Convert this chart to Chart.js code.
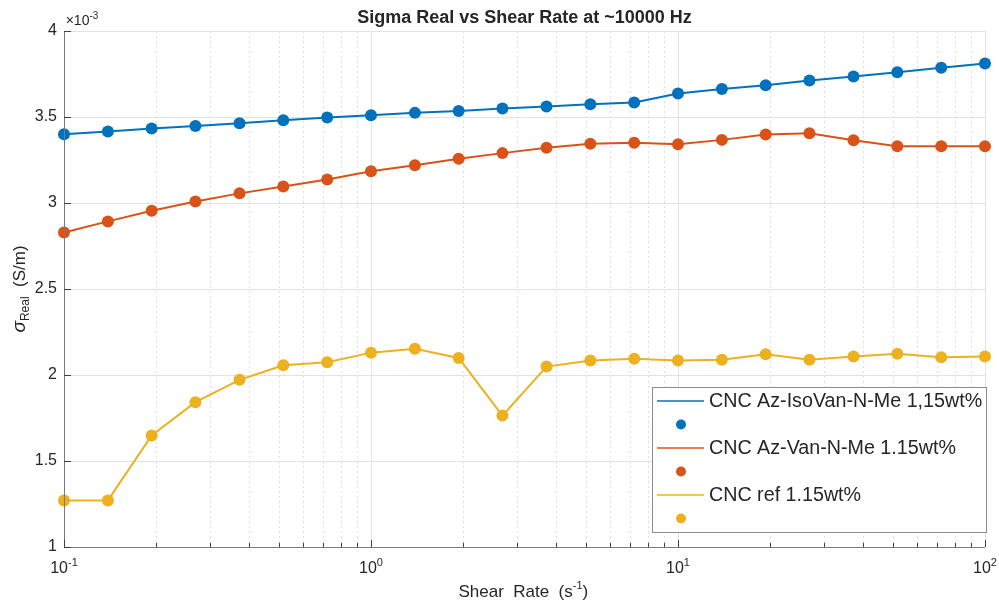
<!DOCTYPE html>
<html lang="en">
<head>
    <meta charset="UTF-8">
    <title>Sigma Real vs Shear Rate</title>
    <script src="https://cdn.jsdelivr.net/npm/chart.js"></script>
    <style>
        html, body {
            margin: 0;
            padding: 0;
            background: #ffffff;
        }
        #wrap {
            position: relative;
            width: 999px;
            height: 604px;
        }
    </style>
</head>
<body>
    <div id="wrap">
        <canvas id="sigmaChart" width="999" height="604"></canvas>
    </div>

    <script>
        // shear rate (1/s), log spaced
        const shearRate = [0.1, 0.139, 0.193, 0.268, 0.373, 0.518, 0.720, 1.0, 1.39, 1.93, 2.68,
                           3.73, 5.18, 7.20, 10, 13.9, 19.3, 26.8, 37.3, 51.8, 72.0, 100];

        // sigma real, units of 1e-3 S/m
        const sigmaIsoVan = [3.40, 3.416, 3.433, 3.448, 3.464, 3.481, 3.497, 3.510, 3.524, 3.535, 3.549,
                             3.561, 3.574, 3.584, 3.636, 3.663, 3.685, 3.712, 3.735, 3.760, 3.787, 3.811];
        const sigmaVan = [2.829, 2.893, 2.955, 3.009, 3.056, 3.096, 3.137, 3.184, 3.220, 3.257, 3.290,
                          3.321, 3.344, 3.350, 3.342, 3.367, 3.398, 3.406, 3.365, 3.330, 3.330, 3.330];
        const sigmaRef = [1.271, 1.271, 1.648, 1.842, 1.972, 2.057, 2.074, 2.130, 2.153, 2.099, 1.764,
                          2.049, 2.084, 2.094, 2.084, 2.089, 2.121, 2.089, 2.108, 2.124, 2.103, 2.107];

        const seriesNames = ['CNC Az-IsoVan-N-Me 1,15wt%', 'CNC Az-Van-N-Me 1.15wt%', 'CNC ref 1.15wt%'];
        const seriesColors = ['#0072BD', '#D95319', '#EDB120'];

        const yTicks = [1, 1.5, 2, 2.5, 3, 3.5, 4];
        const xDecades = [-1, 0, 1, 2];

        const FONT = '"Liberation Sans", Arial, Helvetica, sans-serif';
        const TXT = '#262626';

        function makeSet(i, values) {
            return {
                label: seriesNames[i],
                data: shearRate.map((x, k) => ({ x: x, y: values[k] })),
                borderColor: seriesColors[i],
                backgroundColor: seriesColors[i],
                borderWidth: 2,
                pointRadius: 6,
                pointBorderWidth: 0,
                pointBackgroundColor: seriesColors[i],
                tension: 0,
                clip: false
            };
        }

        // text with a raised exponent, centred on cx
        function supText(ctx, base, sup, cx, y, size, supSize) {
            ctx.font = size + 'px ' + FONT;
            const w1 = ctx.measureText(base).width;
            ctx.font = supSize + 'px ' + FONT;
            const w2 = ctx.measureText(sup).width;
            let x = cx - (w1 + w2) / 2;
            ctx.textAlign = 'left';
            ctx.textBaseline = 'alphabetic';
            ctx.font = size + 'px ' + FONT;
            ctx.fillText(base, x, y);
            ctx.font = supSize + 'px ' + FONT;
            ctx.fillText(sup, x + w1, y - size * 0.45);
            return x + w1 + w2;
        }

        const matlabLook = {
            id: 'matlabLook',
            beforeDatasetsDraw(chart) {
                const { ctx, chartArea: a, scales: { x, y } } = chart;
                ctx.save();
                // vertical grid: decades solid, minor dotted
                xDecades.forEach(e => {
                    for (let m = 1; m <= 9; m++) {
                        const v = m * Math.pow(10, e);
                        if (v > 100.0001) break;
                        const px = Math.round(x.getPixelForValue(v)) + 0.5;
                        ctx.beginPath();
                        ctx.strokeStyle = m === 1 ? '#e3e3e3' : '#dedede';
                        ctx.lineWidth = 1;
                        ctx.setLineDash(m === 1 ? [] : [2, 3]);
                        ctx.moveTo(px, a.top);
                        ctx.lineTo(px, a.bottom);
                        ctx.stroke();
                    }
                });
                ctx.setLineDash([]);
                // horizontal grid
                yTicks.forEach(t => {
                    const py = Math.round(y.getPixelForValue(t)) + 0.5;
                    ctx.beginPath();
                    ctx.strokeStyle = '#e3e3e3';
                    ctx.moveTo(a.left, py);
                    ctx.lineTo(a.right, py);
                    ctx.stroke();
                });
                ctx.restore();
            },
            afterDatasetsDraw(chart) {
                const { ctx, chartArea: a, scales: { x, y } } = chart;
                ctx.save();
                // axis lines
                ctx.strokeStyle = '#7a7a7a';
                ctx.lineWidth = 1;
                ctx.beginPath();
                ctx.moveTo(Math.round(a.left) + 0.5, a.top);
                ctx.lineTo(Math.round(a.left) + 0.5, Math.round(a.bottom) + 0.5);
                ctx.lineTo(a.right, Math.round(a.bottom) + 0.5);
                ctx.stroke();

                // ticks (inside)
                ctx.strokeStyle = '#404040';
                xDecades.forEach(e => {
                    for (let m = 1; m <= 9; m++) {
                        const v = m * Math.pow(10, e);
                        if (v > 100.0001) break;
                        const px = Math.round(x.getPixelForValue(v)) + 0.5;
                        const len = m === 1 ? 7 : 4;
                        ctx.beginPath();
                        ctx.moveTo(px, a.bottom);
                        ctx.lineTo(px, a.bottom - len);
                        ctx.stroke();
                    }
                });
                yTicks.forEach(t => {
                    const py = Math.round(y.getPixelForValue(t)) + 0.5;
                    ctx.beginPath();
                    ctx.moveTo(a.left, py);
                    ctx.lineTo(a.left + 7, py);
                    ctx.stroke();
                });

                ctx.fillStyle = TXT;
                // x tick labels 10^n
                xDecades.forEach(e => {
                    const px = x.getPixelForValue(Math.pow(10, e));
                    supText(ctx, '10', String(e), px, a.bottom + 26, 16, 11);
                });

                // y exponent marker
                supText(ctx, '\u00d710', '-3', a.left + 18, a.top - 6, 14, 10);

                // title
                ctx.font = 'bold 18px ' + FONT;
                ctx.textAlign = 'center';
                ctx.textBaseline = 'alphabetic';
                ctx.fillText('Sigma Real vs Shear Rate at ~10000 Hz', (a.left + a.right) / 2, a.top - 8);

                // x axis title
                const endX = supText(ctx, 'Shear  Rate  (s', '-1', (a.left + a.right) / 2 - 4, 597, 17, 11);
                ctx.font = '17px ' + FONT;
                ctx.textAlign = 'left';
                ctx.fillText(')', endX, 597);

                // y axis title: sigma_Real (S/m)
                ctx.save();
                ctx.translate(25, (a.top + a.bottom) / 2);
                ctx.rotate(-Math.PI / 2);
                ctx.font = 'italic 19px ' + FONT;
                const wSig = ctx.measureText('\u03c3').width;
                ctx.font = '12px ' + FONT;
                const wSub = ctx.measureText('Real').width;
                ctx.font = '17px ' + FONT;
                const wUnit = ctx.measureText('  (S/m)').width;
                let sx = -(wSig + wSub + wUnit) / 2;
                ctx.textAlign = 'left';
                ctx.font = 'italic 19px ' + FONT;
                ctx.fillText('\u03c3', sx, 0);
                ctx.font = '12px ' + FONT;
                ctx.fillText('Real', sx + wSig, 4);
                ctx.font = '17px ' + FONT;
                ctx.fillText('  (S/m)', sx + wSig + wSub, 0);
                ctx.restore();

                // legend box
                const lx = 652, ly = 387, lw = 334, lh = 145;
                ctx.fillStyle = '#ffffff';
                ctx.fillRect(lx, ly, lw, lh);
                ctx.strokeStyle = '#8c8c8c';
                ctx.lineWidth = 1;
                ctx.strokeRect(lx + 0.5, ly + 0.5, lw, lh);
                chart.data.datasets.forEach((ds, i) => {
                    const rowY = ly + 14 + i * 47;
                    ctx.strokeStyle = ds.borderColor;
                    ctx.lineWidth = 1.5;
                    ctx.beginPath();
                    ctx.moveTo(lx + 5, rowY);
                    ctx.lineTo(lx + 52, rowY);
                    ctx.stroke();
                    ctx.fillStyle = TXT;
                    ctx.font = '19.7px ' + FONT;
                    ctx.textAlign = 'left';
                    ctx.textBaseline = 'middle';
                    ctx.fillText(ds.label, lx + 57, rowY + 1);
                    ctx.fillStyle = ds.borderColor;
                    ctx.beginPath();
                    ctx.arc(lx + 29, rowY + 23.5, 5, 0, Math.PI * 2);
                    ctx.fill();
                });
                ctx.restore();
            }
        };

        const ctx = document.getElementById('sigmaChart').getContext('2d');
        const sigmaChart = new Chart(ctx, {
            type: 'line',
            data: {
                datasets: [makeSet(0, sigmaIsoVan), makeSet(1, sigmaVan), makeSet(2, sigmaRef)]
            },
            options: {
                responsive: false,
                animation: false,
                layout: {
                    padding: { top: 31, right: 14, left: 0, bottom: 0 }
                },
                plugins: {
                    legend: { display: false },
                    title: { display: false },
                    tooltip: { enabled: false }
                },
                scales: {
                    x: {
                        type: 'logarithmic',
                        min: 0.1,
                        max: 100,
                        grid: { display: false },
                        border: { display: false },
                        ticks: { display: false },
                        afterFit: function(scale) { scale.height = 57; }
                    },
                    y: {
                        type: 'linear',
                        min: 1,
                        max: 4,
                        afterBuildTicks: function(scale) {
                            scale.ticks = yTicks.map(v => ({ value: v }));
                        },
                        ticks: {
                            padding: 7,
                            color: TXT,
                            font: { family: FONT, size: 16 },
                            callback: function(value) { return String(value); }
                        },
                        grid: { display: false, drawTicks: false },
                        border: { display: false },
                        afterFit: function(scale) { scale.width = 64; }
                    }
                }
            },
            plugins: [matlabLook]
        });
    </script>
</body>
</html>
